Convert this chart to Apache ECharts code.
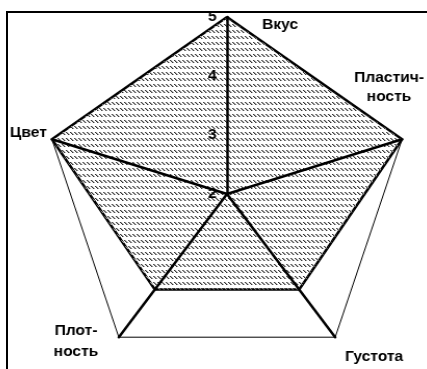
<!DOCTYPE html>
<html><head><meta charset="utf-8">
<script src="https://cdn.jsdelivr.net/npm/echarts@6/dist/echarts.min.js"></script>
<style>
html,body{margin:0;padding:0;background:#fff;overflow:hidden;width:427px;height:369px;}
#frame{position:absolute;left:6px;top:11px;width:440px;height:380px;border-left:2px solid #000;border-top:2px solid #000;box-sizing:border-box;}
#chart{position:absolute;left:0;top:0;width:427px;height:369px;transform:scaleX(1.04);transform-origin:227px 0;}
</style></head><body>
<div id="frame"></div>
<div id="chart"></div>
<script>
// Indicators listed counter-clockwise from the top (ECharts radar default direction)
const categories = ['Вкус', 'Цвет', 'Плотность', 'Густота', 'Пластичность'];
const values = [5, 5, 4, 4, 5];
const tickLabels = ['2', '3', '4', '5'];
const axisMin = 2;
const axisMax = 5;
// Hyphenated display lines of the axis names
const nameLines = {
  'Вкус': ['Вкус'],
  'Цвет': ['Цвет'],
  'Плотность': ['Плот-', 'ность'],
  'Густота': ['Густота'],
  'Пластичность': ['Пластич-', 'ность']
};

// hatch pattern
const pc = document.createElement('canvas');
pc.width = 4; pc.height = 6;
const g = pc.getContext('2d');
g.fillStyle = '#333333';
g.fillRect(0, 0, 1, 1); g.fillRect(1, 1, 1, 1); g.fillRect(2, 2, 1, 1);
g.fillStyle = '#a8a8a8';
g.fillRect(1, 0, 1, 1); g.fillRect(2, 1, 1, 1); g.fillRect(3, 2, 1, 1);

const font = 'bold 15px "Liberation Sans", Arial, sans-serif';
const namePlacement = {
  'Вкус': [{x: 260.7, y: 25, align: 'left'}],
  'Цвет': [{x: 18.3, y: 133, align: 'left'}],
  'Плотность': [{x: 81.8, y: 330.5, align: 'center'}, {x: 81.8, y: 352, align: 'center'}],
  'Густота': [{x: 340.5, y: 356.7, align: 'left'}],
  'Пластичность': [{x: 382.8, y: 78.3, align: 'center'}, {x: 382.8, y: 96.7, align: 'center'}]
};
const graphics = [];
categories.forEach(c => {
  nameLines[c].forEach((t, i) => {
    const p = namePlacement[c][i];
    graphics.push({type: 'text', x: p.x, y: p.y, z: 10,
      style: {text: t, font: font, fill: '#000', align: p.align, verticalAlign: 'middle'}});
  });
});

const cx = 227, cy = 194, R = 177;

const chart = echarts.init(document.getElementById('chart'), null, {renderer: 'canvas'});
chart.setOption({
  animation: false,
  graphic: graphics,
  // helper grid whose y axis coincides with the vertical radar axis, used for tick labels
  grid: {left: cx, top: cy - R, width: 1, height: R, containLabel: false},
  xAxis: {type: 'value', show: false},
  yAxis: {
    type: 'value', min: axisMin, max: axisMax, interval: 1, z: 12,
    axisLine: {show: false}, axisTick: {show: false}, splitLine: {show: false},
    axisLabel: {
      color: '#000', fontWeight: 'bold', fontSize: 15, margin: 10,
      fontFamily: '"Liberation Sans", Arial, sans-serif',
      formatter: v => tickLabels[Math.round(v - axisMin)]
    }
  },
  radar: {
    z: 3,
    center: [cx, cy],
    radius: R,
    startAngle: 90,
    splitNumber: tickLabels.length - 1,
    shape: 'polygon',
    indicator: categories.map(c => ({name: c, min: axisMin, max: axisMax})),
    axisName: {show: false},
    axisLine: {lineStyle: {color: '#000', width: 2.5}},
    axisTick: {show: false},
    axisLabel: {show: false},
    splitLine: {lineStyle: {color: ['rgba(0,0,0,0)', 'rgba(0,0,0,0)', 'rgba(0,0,0,0)', '#000'], width: 1}},
    splitArea: {show: false}
  },
  series: [{
    type: 'radar',
    z: 2,
    symbol: 'none',
    lineStyle: {color: '#000', width: 2.5},
    areaStyle: {color: {image: pc, repeat: 'repeat'}, opacity: 1},
    data: [{value: values, name: 'Оценка'}]
  }]
});
</script>
</body></html>
